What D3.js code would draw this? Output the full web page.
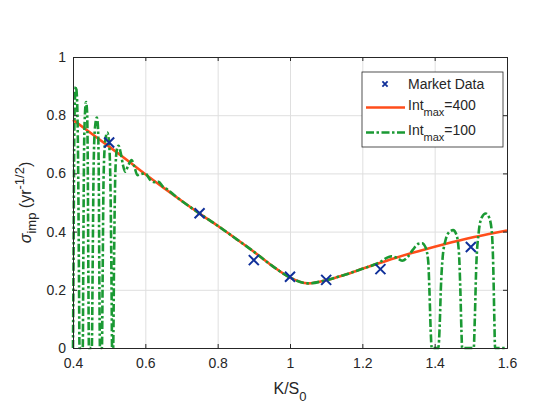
<!DOCTYPE html>
<html>
<head>
<meta charset="utf-8">
<script src="https://cdn.jsdelivr.net/npm/d3@7/dist/d3.min.js"></script>
<style>
  html, body { margin: 0; padding: 0; background: #fff; }
  svg text { font-family: "Liberation Sans", Arial, Helvetica, sans-serif; fill: #262626; }
</style>
</head>
<body>
<div id="chart"></div>
<script>
// tick labels
var xTicks = [0.4, 0.6, 0.8, 1.0, 1.2, 1.4, 1.6];
var yTicks = [0, 0.2, 0.4, 0.6, 0.8, 1];

// market quotes (K/S0, implied vol)
var marketK = [0.5, 0.75, 0.9, 1.0, 1.1, 1.25, 1.5];
var marketVol = [0.706, 0.463, 0.302, 0.245, 0.234, 0.271, 0.347];

// Int_max = 400 (smooth)
var fineK = [0.40, 0.45, 0.50, 0.55, 0.60, 0.65, 0.70, 0.75, 0.80, 0.85, 0.90, 0.95,
             1.00, 1.05, 1.10, 1.15, 1.20, 1.25, 1.30, 1.35, 1.40, 1.45, 1.50, 1.55, 1.60];
var fineVol = [0.784, 0.738, 0.692, 0.645, 0.597, 0.551, 0.506, 0.462, 0.420, 0.376, 0.331, 0.283,
               0.242, 0.222, 0.233, 0.251, 0.272, 0.293, 0.313, 0.331, 0.348, 0.364, 0.379, 0.392, 0.404];

// Int_max = 100 (oscillating)
var coarseK = [0.400, 0.4015, 0.403, 0.405, 0.408, 0.411, 0.414, 0.4165, 0.418,
               0.427, 0.4285, 0.430, 0.432, 0.436, 0.439, 0.441, 0.4425, 0.444,
               0.452, 0.4545, 0.457, 0.461, 0.466, 0.469, 0.4715, 0.473, 0.4745,
               0.480, 0.482, 0.4845, 0.489, 0.495, 0.500, 0.504, 0.507, 0.508,
               0.511, 0.5135, 0.517, 0.521, 0.526, 0.532, 0.538, 0.544, 0.553, 0.562,
               0.570, 0.578, 0.590, 0.600, 0.612, 0.624, 0.636, 0.650, 0.663, 0.680, 0.700,
               0.75, 0.80, 0.85, 0.90, 0.95, 1.00, 1.05, 1.10, 1.15, 1.20, 1.23, 1.25,
               1.265, 1.28, 1.295, 1.31, 1.325, 1.34, 1.355, 1.365, 1.375, 1.382, 1.386, 1.389, 1.392,
               1.410, 1.414, 1.417, 1.422, 1.430, 1.440, 1.451, 1.460, 1.467, 1.471, 1.474, 1.476,
               1.508, 1.511, 1.515, 1.522, 1.530, 1.541, 1.550, 1.558, 1.562, 1.565, 1.567, 1.600];
var coarseVol = [0.00, 0.30, 0.65, 0.84, 0.898, 0.86, 0.65, 0.25, 0.00,
                 0.00, 0.30, 0.60, 0.77, 0.845, 0.81, 0.60, 0.25, 0.00,
                 0.00, 0.30, 0.62, 0.76, 0.792, 0.76, 0.55, 0.20, 0.00,
                 0.00, 0.25, 0.58, 0.71, 0.740, 0.70, 0.52, 0.15, 0.00,
                 0.00, 0.30, 0.60, 0.68, 0.695, 0.67, 0.63, 0.606, 0.628, 0.646,
                 0.622, 0.594, 0.598, 0.600, 0.580, 0.570, 0.571, 0.553, 0.543, 0.525, 0.506,
                 0.462, 0.420, 0.376, 0.331, 0.283, 0.242, 0.222, 0.233, 0.251, 0.272, 0.285, 0.296,
                 0.308, 0.315, 0.310, 0.300, 0.312, 0.338, 0.358, 0.360, 0.345, 0.300, 0.18, 0.06, 0.00,
                 0.00, 0.08, 0.20, 0.31, 0.37, 0.398, 0.405, 0.39, 0.33, 0.20, 0.06, 0.00,
                 0.00, 0.10, 0.28, 0.40, 0.448, 0.462, 0.45, 0.40, 0.28, 0.10, 0.00, 0.00];

var W = 560, H = 420,
    margin = {left: 73, top: 57, right: 53, bottom: 72},
    w = W - margin.left - margin.right,
    h = H - margin.top - margin.bottom,
    axisColor = '#262626',
    redColor = '#ff4d1a',
    greenColor = '#1a9933',
    blueColor = '#10309a';

var svg = d3.select('#chart')
  .append('svg')
    .attr('width', W)
    .attr('height', H);

var x = d3.scaleLinear().domain([0.4, 1.6]).range([0, w]),
    y = d3.scaleLinear().domain([0, 1]).range([h, 0]);

var g = svg.append('g')
  .attr('transform', 'translate(' + margin.left + ',' + margin.top + ')');

// grid
g.append('g')
  .attr('class', 'grid')
  .attr('transform', 'translate(0,' + h + ')')
  .call(d3.axisBottom(x).tickValues(xTicks).tickSize(-h).tickFormat(''))
  .call(s => s.select('.domain').remove());
g.append('g')
  .attr('class', 'grid')
  .call(d3.axisLeft(y).tickValues(yTicks).tickSize(-w).tickFormat(''))
  .call(s => s.select('.domain').remove());
g.selectAll('.grid line')
  .attr('stroke', '#dfdfdf')
  .attr('stroke-width', 1);

var plot = g.append('g');

var line = d3.line()
  .x(d => x(d[0]))
  .y(d => y(d[1]))
  .curve(d3.curveMonotoneX);

plot.append('path')
  .datum(fineK.map((k, i) => [k, fineVol[i]]))
  .attr('d', line)
  .attr('fill', 'none')
  .attr('stroke', redColor)
  .attr('stroke-width', 2.6);

plot.append('path')
  .datum(coarseK.map((k, i) => [k, coarseVol[i]]))
  .attr('d', line)
  .attr('fill', 'none')
  .attr('stroke', greenColor)
  .attr('stroke-width', 2.6)
  .attr('stroke-dasharray', '8,2.5,2.5,2.5');

function cross(sel, r, sw) {
  sel.append('path')
    .attr('d', 'M' + (-r) + ',' + (-r) + 'L' + r + ',' + r + 'M' + (-r) + ',' + r + 'L' + r + ',' + (-r))
    .attr('stroke', blueColor)
    .attr('stroke-width', sw)
    .attr('fill', 'none');
}

plot.selectAll('.mkt')
  .data(marketK.map((k, i) => [k, marketVol[i]]))
  .enter()
  .append('g')
    .attr('class', 'mkt')
    .attr('transform', d => 'translate(' + x(d[0]) + ',' + y(d[1]) + ')')
    .each(function () { cross(d3.select(this), 5, 2); });

// axes (ticks inward, box on)
var xb = g.append('g')
  .attr('transform', 'translate(0,' + h + ')')
  .call(d3.axisBottom(x).tickValues(xTicks).tickSize(-4).tickPadding(10).tickFormat(d3.format('')));
var yl = g.append('g')
  .call(d3.axisLeft(y).tickValues(yTicks).tickSize(-4).tickPadding(7).tickFormat(d3.format('')));
var xt = g.append('g')
  .call(d3.axisTop(x).tickValues(xTicks).tickSize(-4).tickFormat(''));
var yr = g.append('g')
  .attr('transform', 'translate(' + w + ',0)')
  .call(d3.axisRight(y).tickValues(yTicks).tickSize(-4).tickFormat(''));

[xb, yl, xt, yr].forEach(function (a) {
  a.select('.domain').attr('stroke', axisColor).attr('stroke-width', 1);
  a.selectAll('.tick line').attr('stroke', axisColor);
  a.selectAll('text')
    .style('font-size', '14px')
    .style('font-family', '"Liberation Sans", Arial, sans-serif')
    .attr('fill', axisColor);
});

// x label
var xl = svg.append('text')
  .attr('x', margin.left + w / 2)
  .attr('y', 394)
  .attr('text-anchor', 'middle')
  .style('font-size', '16px');
xl.append('tspan').text('K/S');
xl.append('tspan').attr('dy', 7).style('font-size', '13px').text('0');

// y label
var ylab = svg.append('text')
  .attr('transform', 'translate(31,' + (margin.top + h / 2) + ') rotate(-90)')
  .attr('text-anchor', 'middle')
  .style('font-size', '16px');
ylab.append('tspan').style('font-style', 'italic').text('σ');
ylab.append('tspan').attr('dy', 5).style('font-size', '13px').text('imp');
ylab.append('tspan').attr('dy', -5).text(' (yr');
ylab.append('tspan').attr('dy', -7).style('font-size', '13px').text('-1/2');
ylab.append('tspan').attr('dy', 7).text(')');

// legend
var lg = svg.append('g');
lg.append('rect')
  .attr('x', 362)
  .attr('y', 72)
  .attr('width', 141)
  .attr('height', 75)
  .attr('fill', '#fff')
  .attr('stroke', axisColor)
  .attr('stroke-width', 0.8);

cross(lg.append('g').attr('transform', 'translate(385,84)'), 2.6, 1.8);
lg.append('text')
  .attr('x', 408)
  .attr('y', 89)
  .style('font-size', '14px')
  .text('Market Data');

var legendRows = [
  {label: '400', color: redColor, dash: null, y: 107.5},
  {label: '100', color: greenColor, dash: '8,2.5,2.5,2.5', y: 132.5}
];
legendRows.forEach(function (r) {
  lg.append('line')
    .attr('x1', 366)
    .attr('x2', 405)
    .attr('y1', r.y)
    .attr('y2', r.y)
    .attr('stroke', r.color)
    .attr('stroke-width', 2.6)
    .attr('stroke-dasharray', r.dash);
  var t = lg.append('text')
    .attr('x', 408)
    .attr('y', r.y + 2)
    .style('font-size', '14px');
  t.append('tspan').text('Int');
  t.append('tspan').attr('dy', 6).style('font-size', '11px').text('max');
  t.append('tspan').attr('dy', -6).text('=' + r.label);
});
</script>
</body>
</html>
